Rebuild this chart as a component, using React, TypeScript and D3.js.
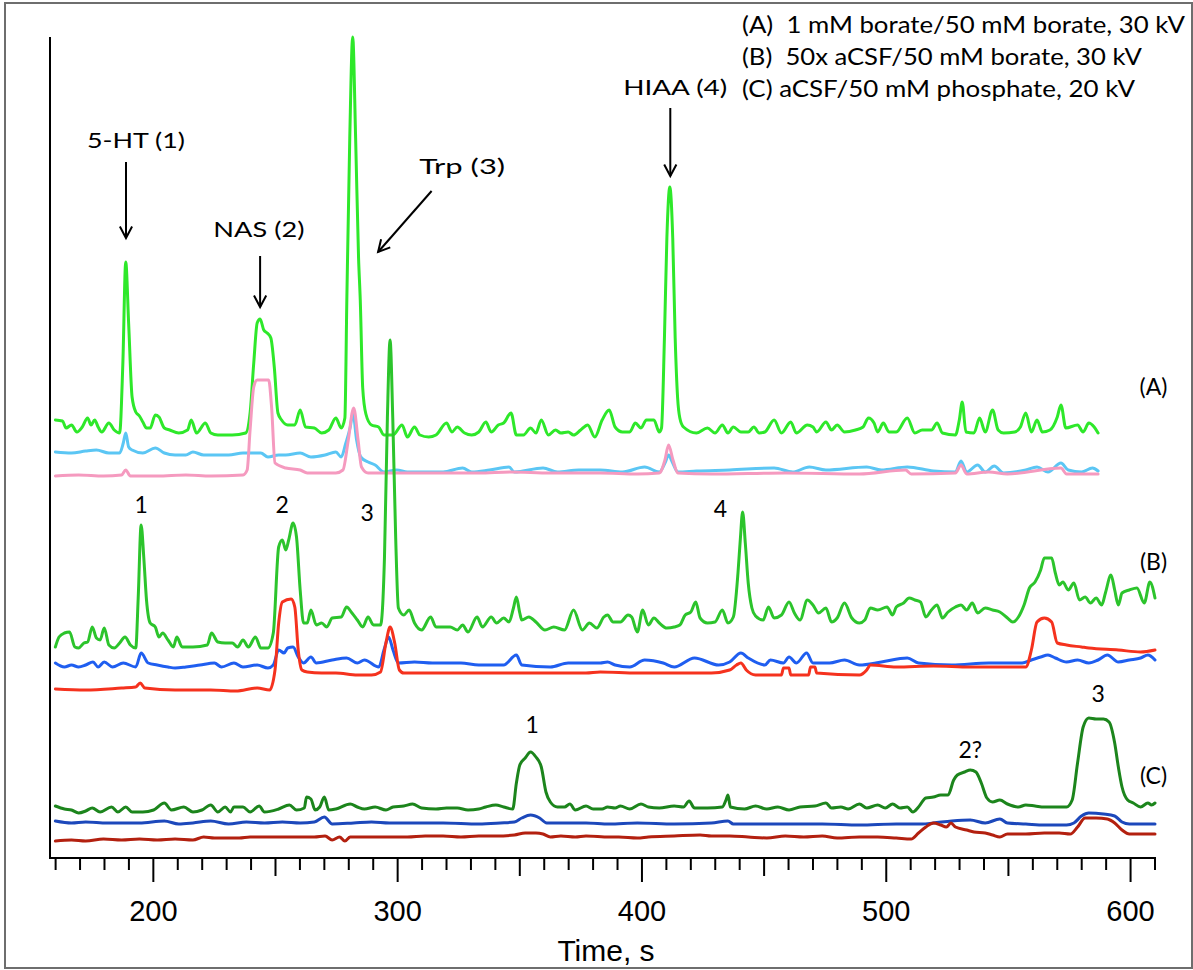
import React from 'react';
import * as d3 from 'd3';

type Pt = [number, number];

// ---- Data: time (s) vs detector signal (a.u.) ----
const aGreen: Pt[] = [[159.9,438],[162.8,437],[164.3,430],[166.5,433],[168.7,426],[170.9,431],[173.1,440],[174.5,433],[176.0,438],[177.4,431],[178.9,426],[181.8,435],[184.0,428],[186.2,425],[187.5,493],[188.7,596],[189.9,534],[191.3,461],[192.8,446],[194.3,442],[195.7,436],[197.2,430],[198.7,430],[200.8,443],[202.3,441],[204.5,430],[206.7,428],[210.4,425],[214.0,428],[215.5,438],[217.7,425],[221.3,435],[223.5,425],[226.4,423],[232.3,423],[237.8,425],[239.6,445],[241.1,495],[242.5,535],[243.7,539],[245.2,528],[246.6,525],[248.1,520],[249.5,491],[251.0,445],[252.5,438],[255.0,433],[257.9,433],[260.1,448],[262.3,431],[265.9,430],[268.9,425],[271.8,428],[274.7,440],[276.9,430],[278.4,440],[279.2,558],[280.4,720],[281.6,821],[282.8,720],[284.0,600],[284.7,558],[285.7,470],[287.0,444],[289.3,433],[292.2,431],[294.4,423],[298.1,423],[301.8,433],[304.0,421],[306.9,431],[309.1,423],[312.7,421],[315.7,423],[320.0,435],[322.2,426],[324.4,431],[327.4,425],[330.3,423],[333.2,426],[336.1,436],[338.3,426],[341.2,433],[343.4,435],[346.4,445],[348.6,423],[351.5,423],[354.4,430],[356.6,425],[358.8,438],[361.7,423],[364.6,428],[366.8,425],[369.8,426],[372.0,423],[374.9,428],[377.8,433],[380.7,421],[383.7,438],[386.6,448],[389.0,431],[392.0,426],[395.0,426],[397.3,435],[399.6,430],[401.8,438],[404.9,438],[407.1,426],[408.0,430],[409.2,520],[410.2,620],[411.4,671],[412.6,620],[413.6,520],[414.6,460],[415.5,440],[417.0,431],[422.3,425],[426.8,430],[429.9,425],[432.9,433],[435.2,425],[437.4,431],[440.5,426],[443.5,426],[445.8,431],[448.0,425],[450.3,426],[454.1,438],[457.1,425],[460.9,436],[463.2,425],[467.7,433],[470.0,431],[471.5,426],[475.3,436],[477.6,428],[479.9,433],[482.9,426],[487.4,428],[490.5,431],[492.7,440],[495.0,435],[496.5,426],[498.8,435],[501.1,426],[504.1,426],[508.6,440],[511.7,425],[514.7,428],[518.5,428],[520.8,435],[523.0,425],[528.3,423],[529.9,438],[531.1,456],[532.6,426],[535.9,425],[538.2,440],[540.5,426],[543.5,448],[545.8,428],[548.0,425],[552.6,426],[554.9,431],[557.1,445],[559.4,426],[561.7,438],[563.9,426],[567.0,428],[570.0,441],[571.5,453],[573.5,430],[578.3,433],[580.6,426],[582.9,435],[585.1,431],[586.7,425]];

const aBlue: Pt[] = [[159.9,406],[166.5,405],[172.3,407],[176.7,408],[181.8,405],[186.2,405],[187.7,415],[188.7,425],[189.9,411],[191.3,408],[195.7,405],[200.8,410],[204.5,405],[208.9,403],[213.3,403],[216.2,406],[220.6,403],[225.0,403],[230.8,403],[236.7,405],[244.0,405],[246.9,401],[251.3,403],[254.2,403],[260.1,405],[264.5,401],[270.3,403],[274.7,406],[276.9,401],[278.8,415],[280.6,431],[281.7,445],[283.2,418],[284.9,401],[287.9,396],[290.8,393],[294.4,386],[299.6,388],[304.0,386],[311.3,386],[318.6,386],[326.6,390],[330.3,386],[337.6,388],[345.6,391],[347.8,386],[359.5,390],[365.4,386],[374.1,388],[382.9,388],[392.0,386],[401.1,391],[407.1,386],[409.6,396],[410.9,403],[412.4,396],[414.7,386],[422.3,387],[435.9,388],[454.1,390],[461.7,386],[468.5,391],[475.3,388],[492.0,391],[498.0,388],[508.6,391],[519.3,387],[528.3,386],[530.6,397],[532.9,386],[537.4,393],[540.5,386],[544.2,392],[548.0,385],[557.1,388],[561.7,391],[566.2,386],[571.5,395],[574.5,388],[579.9,386],[584.4,390],[586.7,387]];

const aPink: Pt[] = [[159.9,382],[169.4,383],[179.6,382],[187.0,383],[188.7,388],[190.6,382],[201.6,382],[213.3,383],[223.5,382],[236.7,383],[238.4,388],[239.6,428],[241.1,471],[242.5,478],[247.2,478],[248.4,451],[249.8,395],[254.2,390],[260.1,388],[263.0,385],[268.9,385],[274.7,385],[277.6,388],[279.8,418],[282.0,450],[283.8,418],[285.2,391],[287.9,385],[294.4,385],[304.0,385],[318.6,385],[333.2,385],[346.4,386],[362.5,385],[377.1,385],[382.9,385],[398.1,384],[407.1,385],[409.4,398],[410.9,413],[412.7,398],[414.7,385],[428.4,384],[458.7,385],[489.0,384],[507.9,388],[510.2,384],[528.3,385],[530.6,393],[532.9,384],[542.0,386],[549.6,384],[571.5,390],[573.8,384],[586.7,384]];

const bGreen: Pt[] = [[159.9,211],[161.4,221],[163.6,225],[165.7,226],[167.9,211],[169.4,210],[171.6,215],[173.1,216],[175.0,231],[176.7,220],[178.2,218],[179.9,230],[181.8,213],[184.0,210],[186.2,215],[188.4,221],[190.6,213],[192.8,210],[193.8,260],[195.0,333],[196.1,300],[197.2,258],[198.7,235],[200.8,231],[202.3,221],[203.8,225],[206.0,218],[208.2,211],[209.6,221],[211.8,211],[216.2,211],[222.1,213],[223.8,225],[226.4,216],[229.4,215],[232.3,215],[234.5,211],[236.7,218],[238.9,211],[241.8,221],[244.0,210],[246.9,210],[249.1,225],[251.3,311],[252.8,318],[254.2,308],[255.4,318],[257.2,335],[258.6,321],[260.1,268],[261.5,235],[263.0,235],[264.5,248],[266.7,233],[268.9,235],[271.0,231],[273.2,240],[276.9,241],[279.1,251],[281.3,245],[283.5,238],[285.7,231],[287.9,241],[290.1,233],[293.0,233],[294.6,300],[295.8,440],[296.9,518],[298.0,440],[299.2,320],[300.3,250],[302.5,243],[304.7,248],[306.9,235],[309.8,228],[313.5,241],[315.7,231],[318.6,231],[321.5,231],[324.4,228],[326.6,233],[328.8,226],[332.5,241],[334.7,231],[338.3,241],[340.5,235],[343.4,240],[345.6,236],[347.4,250],[348.6,261],[350.0,245],[350.8,238],[353.7,241],[356.6,236],[360.3,228],[363.9,231],[368.3,228],[372.0,248],[375.6,228],[378.5,235],[381.5,230],[384.4,241],[385.9,243],[388.2,236],[391.2,236],[394.3,243],[395.8,241],[398.1,226],[400.3,248],[402.6,233],[404.9,240],[407.1,235],[410.2,230],[413.2,231],[415.5,233],[417.7,243],[420.0,246],[422.0,256],[423.8,240],[426.8,235],[429.9,236],[432.9,248],[435.2,235],[437.4,241],[439.3,285],[440.3,320],[441.2,346],[442.3,315],[443.5,275],[445.0,250],[446.5,242],[449.6,238],[451.8,251],[454.1,240],[457.1,243],[460.2,256],[462.4,245],[464.7,238],[467.7,258],[470.0,253],[472.3,245],[475.3,250],[477.6,236],[479.9,240],[482.9,255],[485.9,240],[489.0,235],[491.2,238],[493.5,250],[496.5,248],[500.3,251],[502.6,243],[504.1,251],[507.1,255],[509.4,260],[511.7,258],[514.0,256],[516.2,241],[518.5,248],[520.8,253],[523.0,240],[525.3,246],[528.3,251],[530.6,253],[532.9,248],[535.2,255],[537.4,245],[540.5,250],[543.5,248],[546.5,246],[549.6,240],[551.8,236],[554.1,241],[556.4,253],[558.6,270],[560.9,276],[563.2,288],[564.7,300],[567.7,300],[569.2,285],[570.8,273],[572.3,276],[574.5,268],[576.8,275],[579.1,258],[581.4,261],[583.6,255],[585.9,260],[588.2,253],[589.7,265],[592.0,283],[593.5,268],[595.0,253],[596.5,265],[599.5,268],[602.6,270],[605.6,255],[607.9,276],[610.0,260]];

const bBlue: Pt[] = [[159.9,195],[163.6,191],[166.5,193],[169.4,191],[172.3,193],[175.3,196],[177.4,191],[179.9,196],[183.3,191],[187.7,195],[192.8,191],[195.0,205],[197.9,195],[201.6,193],[206.0,191],[208.9,190],[213.3,191],[219.1,193],[225.0,195],[227.9,191],[233.0,195],[236.7,191],[242.5,193],[246.9,190],[249.1,193],[251.3,208],[253.5,205],[255.0,210],[257.2,211],[259.3,201],[261.5,195],[264.5,201],[266.7,195],[273.2,198],[279.1,200],[283.5,195],[286.4,198],[292.3,191],[294.4,208],[296.3,221],[298.1,208],[300.3,195],[306.9,196],[314.2,195],[325.9,195],[333.2,193],[343.4,193],[348.6,203],[350.8,193],[362.5,191],[369.8,195],[382.9,195],[385.9,196],[389.0,193],[395.0,191],[401.1,198],[408.7,195],[413.2,191],[421.5,200],[431.4,193],[435.9,196],[440.5,205],[443.5,200],[450.3,193],[452.6,198],[457.9,195],[460.2,201],[463.2,195],[467.4,205],[470.0,195],[476.8,195],[482.9,198],[489.0,193],[498.0,196],[508.6,200],[513.2,195],[526.8,193],[542.0,195],[555.6,195],[559.4,198],[563.2,201],[566.2,203],[569.2,200],[573.8,196],[578.3,198],[582.9,195],[586.7,198],[590.5,203],[595.0,196],[599.5,198],[604.1,200],[607.1,203],[610.0,198]];

const bRed: Pt[] = [[159.9,169],[172.3,168],[187.0,170],[192.8,171],[194.6,175],[196.5,170],[208.9,168],[223.5,168],[233.8,167],[242.5,170],[247.6,168],[249.8,188],[251.3,235],[252.8,256],[256.4,259],[257.9,251],[259.3,208],[260.8,188],[263.0,186],[268.9,185],[274.7,185],[283.5,183],[289.3,183],[293.0,186],[295.2,215],[296.9,231],[298.8,215],[300.7,188],[302.5,185],[318.6,185],[333.2,185],[347.8,185],[362.5,185],[377.1,185],[382.9,186],[398.1,185],[413.2,185],[428.4,185],[435.9,188],[438.7,193],[440.5,195],[442.7,188],[446.5,183],[457.1,183],[457.9,190],[460.2,190],[460.9,183],[468.2,183],[469.0,191],[470.8,191],[471.5,185],[489.0,183],[492.0,188],[493.5,193],[504.1,191],[519.3,192],[534.4,191],[557.1,191],[559.4,208],[561.7,236],[564.7,240],[567.7,236],[570.0,215],[573.8,213],[579.9,211],[582.9,210],[595.0,208],[604.1,206],[610.0,208]];

const cGreen: Pt[] = [[159.9,52],[163.6,49],[166.5,48],[169.4,45],[172.3,47],[175.0,50],[178.2,46],[182.9,51],[185.5,46],[188.7,51],[191.3,46],[195.7,46],[200.1,48],[204.5,55],[207.4,48],[212.5,51],[216.2,46],[219.9,48],[223.5,53],[226.4,46],[229.4,51],[231.6,46],[233.0,51],[236.7,51],[239.6,46],[243.3,52],[245.5,46],[251.3,49],[255.7,53],[258.6,48],[261.8,50],[262.7,61],[264.5,59],[266.2,48],[268.1,51],[270.0,61],[271.8,48],[274.7,49],[280.6,54],[283.5,51],[286.4,49],[290.8,51],[295.2,48],[298.1,51],[302.5,52],[306.1,54],[309.8,50],[315.7,49],[320.0,50],[324.4,50],[328.8,48],[333.2,49],[336.1,51],[340.2,53],[343.4,51],[347.1,49],[348.6,75],[350.0,93],[352.2,100],[354.4,106],[356.6,101],[358.8,91],[360.7,66],[362.5,56],[365.4,51],[368.3,51],[370.5,54],[372.7,48],[377.1,52],[380.0,49],[383.7,49],[385.9,51],[389.0,50],[391.2,52],[395.0,49],[399.6,54],[402.6,51],[407.1,50],[413.2,52],[417.0,51],[419.3,57],[421.5,50],[426.8,50],[432.9,51],[434.4,58],[435.2,63],[436.2,51],[442.0,49],[446.5,52],[451.1,49],[455.6,51],[460.2,48],[464.7,51],[470.8,52],[475.3,55],[477.6,50],[481.4,51],[484.4,49],[489.0,54],[492.0,50],[496.5,53],[499.6,50],[502.6,54],[505.6,50],[508.6,51],[510.9,46],[513.2,51],[516.2,60],[519.3,61],[522.3,63],[525.3,63],[527.6,78],[529.1,83],[532.1,86],[534.4,88],[536.7,86],[538.9,75],[541.2,60],[543.5,56],[546.5,58],[549.6,54],[554.1,51],[557.1,53],[560.9,52],[564.7,51],[569.2,51],[573.8,51],[576.1,58],[578.3,95],[580.6,131],[582.9,140],[585.9,139],[588.9,139],[591.2,136],[593.5,115],[595.0,91],[596.5,71],[598.8,58],[601.1,55],[604.1,51],[607.1,55],[608.6,53],[610.0,55]];

const cBlue: Pt[] = [[159.9,37],[166.5,35],[172.3,36],[181.1,35],[187.0,35],[194.3,35],[204.5,37],[210.4,34],[216.2,35],[223.5,37],[230.8,34],[238.1,36],[245.5,35],[252.8,36],[260.1,35],[265.9,36],[270.0,41],[273.2,34],[282.0,35],[289.3,36],[296.6,35],[304.0,35],[318.6,35],[333.2,34],[342.0,35],[347.8,36],[350.8,40],[354.4,43],[358.1,40],[361.0,35],[365.4,35],[377.1,35],[386.6,34],[398.1,35],[413.2,34],[428.4,35],[435.2,37],[437.4,34],[458.7,34],[473.8,34],[489.0,33],[504.1,34],[514.7,34],[519.3,35],[526.8,37],[534.4,38],[540.5,35],[546.5,39],[549.6,35],[557.1,34],[564.7,33],[573.8,33],[576.8,35],[579.9,42],[582.9,45],[588.9,44],[593.5,42],[596.5,36],[599.5,34],[610.0,34]];

const cRed: Pt[] = [[159.9,17],[166.5,18],[172.3,17],[179.6,19],[187.0,18],[194.3,19],[201.6,18],[208.9,19],[216.2,18],[220.6,21],[225.0,20],[230.8,20],[235.2,20],[239.6,21],[245.5,21],[254.2,21],[260.1,21],[265.9,21],[270.3,22],[273.2,18],[276.2,21],[278.4,17],[280.6,21],[289.3,21],[296.6,21],[304.0,21],[311.3,22],[318.6,22],[325.9,21],[333.2,22],[340.5,22],[347.8,23],[352.2,25],[356.6,25],[359.5,24],[362.5,21],[366.8,22],[372.7,21],[377.1,22],[386.6,21],[390.5,21],[398.1,20],[402.6,21],[413.2,22],[423.8,23],[428.4,22],[435.9,22],[443.5,21],[451.1,20],[458.7,22],[466.2,21],[473.8,22],[479.9,20],[489.0,21],[496.5,21],[504.1,20],[510.2,19],[513.2,25],[516.2,31],[519.3,35],[522.3,33],[524.6,31],[526.5,35],[528.3,31],[532.9,28],[535.9,26],[540.5,25],[543.5,23],[546.5,21],[549.6,24],[557.1,24],[564.7,25],[570.8,25],[575.3,24],[578.3,31],[581.4,40],[585.9,40],[590.5,39],[593.5,35],[596.5,28],[599.5,24],[604.1,24],[610.0,24]];

const legendLines = [
  '(A)  1 mM borate/50 mM borate, 30 kV',
  '(B)  50x aCSF/50 mM borate, 30 kV',
  '(C) aCSF/50 mM phosphate, 20 kV',
];
const compoundNames = ['5-HT (1)', 'NAS (2)', 'Trp (3)', 'HIAA (4)'];
const compoundLabelT = [192.9, 243.2, 326.4, 413.6];
const compoundLabelV = [710, 621, 684, 763];
const arrowFromT = [188.8, 243.7, 313.9, 411.6];
const arrowFromV = [696, 602, 667, 750];
const arrowToT = [188.8, 243.7, 292.0, 411.6];
const arrowToV = [620, 551, 606, 682];
const peakNumText = ['1', '2', '3', '4', '1', '2?', '3'];
const peakNumT = [195.0, 252.7, 287.5, 432.1, 355.1, 534.4, 586.7];
const peakNumV = [345, 345, 337, 341, 125, 100, 156];
const runNames = ['(A)', '(B)', '(C)'];
const runLabelT = [609.4, 609.4, 609.4];
const runLabelV = [463, 288, 74];
const tickLabels = [200, 300, 400, 500, 600];

// ---- Styles ----
const W = 1193, H = 970;
const LEFT = 50, RIGHT = 1155, TOP = 37, BOTTOM = 858;
const traceSeries = [
  { data: aGreen, color: '#2ee82a' },
  { data: aBlue, color: '#5bc6f4' },
  { data: aPink, color: '#f59abf' },
  { data: bBlue, color: '#1f5ef0' },
  { data: bRed, color: '#f5321e' },
  { data: bGreen, color: '#2cc42c' },
  { data: cGreen, color: '#1c851c' },
  { data: cBlue, color: '#1c48bb' },
  { data: cRed, color: '#b3200f' },
];
const legendWidths = [443, 400, 393];
const compoundWidths = [98, 91, 86, 104];
const ANNOT_FONT = 'Lato, "Open Sans", sans-serif';
const AXIS_FONT = '"Liberation Sans", Arial, sans-serif';

export default function App() {
  const x = d3.scaleLinear().domain([157.7, 610]).range([LEFT, RIGHT]);
  const y = d3.scaleLinear().domain([0, 821]).range([BOTTOM, TOP]);
  const line = d3
    .line<Pt>()
    .x((d) => x(d[0]))
    .y((d) => y(d[1]))
    .curve(d3.curveMonotoneX);

  const ticks = d3.range(160, 611, 10);

  const arrowHead = (x1: number, y1: number, x2: number, y2: number) => {
    const a = Math.atan2(y2 - y1, x2 - x1);
    const L = 13, th = (28 * Math.PI) / 180;
    const p1 = [x2 - L * Math.cos(a - th), y2 - L * Math.sin(a - th)];
    const p2 = [x2 - L * Math.cos(a + th), y2 - L * Math.sin(a + th)];
    return `M${p1[0]},${p1[1]}L${x2},${y2}L${p2[0]},${p2[1]}`;
  };

  return (
    <svg
      width={W}
      height={H}
      style={{ position: 'absolute', left: 0, top: 0, background: '#fff' }}
    >
      <rect x={0} y={0} width={W} height={H} fill="#fff" />
      <rect x={5} y={3} width={1187} height={965} fill="none" stroke="#6e6e6e" strokeWidth={2} />

      {/* traces */}
      {traceSeries.map((s, i) => (
        <path
          key={i}
          d={line(s.data) || ''}
          fill="none"
          stroke={s.color}
          strokeWidth={3}
          strokeLinejoin="round"
          strokeLinecap="round"
        />
      ))}

      {/* axes */}
      <line x1={LEFT} y1={TOP} x2={LEFT} y2={BOTTOM + 1} stroke="#000" strokeWidth={2} />
      <line x1={LEFT - 1} y1={BOTTOM} x2={RIGHT + 1} y2={BOTTOM} stroke="#000" strokeWidth={2} />
      {ticks.map((t) => {
        const len = t % 100 === 0 ? 24 : t % 50 === 0 ? 18 : 12;
        return (
          <line key={t} x1={x(t)} x2={x(t)} y1={BOTTOM} y2={BOTTOM + len} stroke="#000" strokeWidth={2} />
        );
      })}
      {tickLabels.map((t) => (
        <text
          key={t}
          x={x(t)}
          y={921}
          textAnchor="middle"
          fontFamily={AXIS_FONT}
          fontSize={29}
          fill="#000"
        >
          {t}
        </text>
      ))}
      <text x={606} y={961} textAnchor="middle" fontFamily={AXIS_FONT} fontSize={30} fill="#000">
        Time, s
      </text>

      {/* compound annotations */}
      {compoundNames.map((n, i) => (
        <text
          key={n}
          x={x(compoundLabelT[i])}
          y={y(compoundLabelV[i])}
          textAnchor="middle"
          fontFamily={ANNOT_FONT}
          fontSize={22}
          textLength={compoundWidths[i]}
          lengthAdjust="spacingAndGlyphs"
          fill="#000"
        >
          {n}
        </text>
      ))}
      {arrowFromT.map((t, i) => {
        const x1 = x(t), y1 = y(arrowFromV[i]);
        const x2 = x(arrowToT[i]), y2 = y(arrowToV[i]);
        return (
          <g key={i} stroke="#000" strokeWidth={2} fill="none">
            <line x1={x1} y1={y1} x2={x2} y2={y2} />
            <path d={arrowHead(x1, y1, x2, y2)} strokeLinejoin="miter" />
          </g>
        );
      })}

      {/* peak numbers */}
      {peakNumText.map((n, i) => (
        <text
          key={i}
          x={x(peakNumT[i])}
          y={y(peakNumV[i])}
          textAnchor="middle"
          fontFamily={ANNOT_FONT}
          fontSize={23}
          fill="#000"
        >
          {n}
        </text>
      ))}

      {/* run labels */}
      {runNames.map((n, i) => (
        <text
          key={n}
          x={x(runLabelT[i])}
          y={y(runLabelV[i])}
          textAnchor="middle"
          fontFamily={ANNOT_FONT}
          fontSize={23}
          fill="#000"
        >
          {n}
        </text>
      ))}

      {/* legend */}
      {legendLines.map((l, i) => (
        <text
          key={i}
          x={742}
          y={33 + i * 32}
          fontFamily={ANNOT_FONT}
          fontSize={23}
          textLength={legendWidths[i]}
          lengthAdjust="spacingAndGlyphs"
          fill="#000"
          style={{ whiteSpace: 'pre' }}
        >
          {l}
        </text>
      ))}
    </svg>
  );
}
